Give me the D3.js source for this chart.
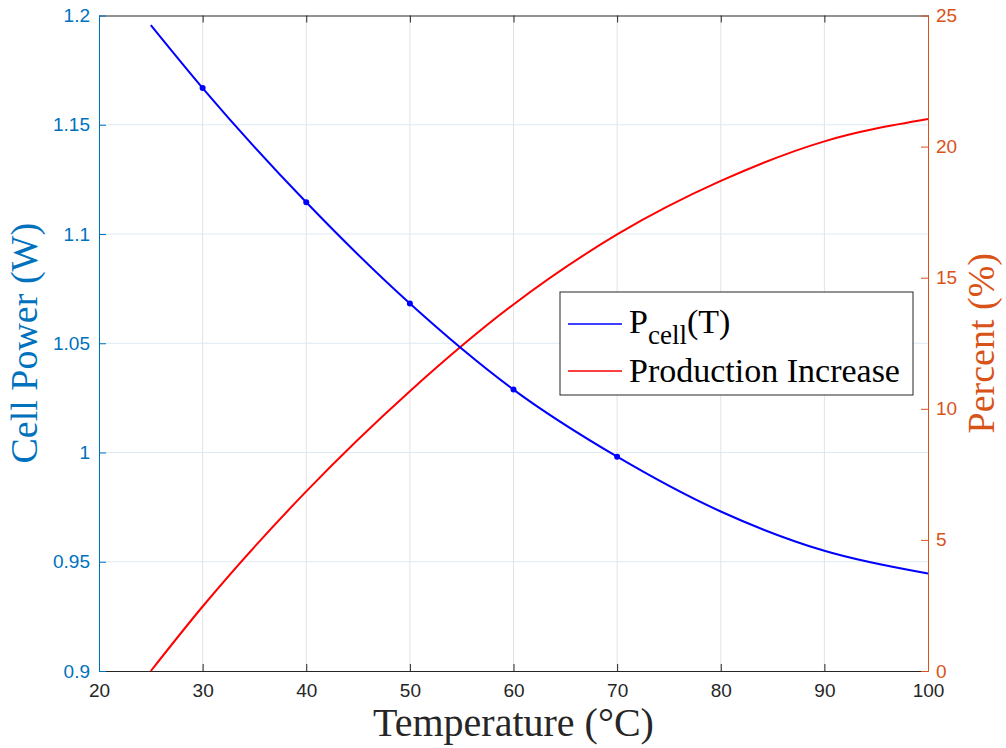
<!DOCTYPE html>
<html>
<head>
<meta charset="utf-8">
<script src="https://cdn.jsdelivr.net/npm/d3@7"></script>
<style>
  body { margin: 0; background: #fff; }
  svg { display: block; }
</style>
</head>
<body>
<div id="chart"></div>
<script>
// Data
const temps = [25, 30, 40, 50, 60, 70, 80, 90, 100]
const cellPower = [1.1956, 1.1668, 1.1145, 1.0682, 1.0288, 0.9981, 0.9730, 0.9550, 0.9446]
const increase = [0, 2.46, 6.85, 10.67, 13.98, 16.65, 18.69, 20.2, 21.05]
const markerTemps = [30, 40, 50, 60, 70]

const xTicks = [20, 30, 40, 50, 60, 70, 80, 90, 100]
const leftTicks = [0.9, 0.95, 1, 1.05, 1.1, 1.15, 1.2]
const rightTicks = [0, 5, 10, 15, 20, 25]

const W = 1006, H = 748
const margin = { top: 15.5, right: 78, bottom: 77, left: 99 }
const blueAxis = "rgb(0,114,189)"
const orangeAxis = "rgb(217,83,25)"

const svg = d3.select("#chart").append("svg")
    .attr("width", W)
    .attr("height", H)

const x = d3.scaleLinear().domain([20, 100]).range([margin.left, W - margin.right])
const yL = d3.scaleLinear().domain([0.9, 1.2]).range([H - margin.bottom, margin.top])
const yR = d3.scaleLinear().domain([0, 25]).range([H - margin.bottom, margin.top])

const x0 = x.range()[0], x1 = x.range()[1]
const yb = yL.range()[0], yt = yL.range()[1]

// Grid
svg.append("g")
    .selectAll("line")
    .data(xTicks.slice(1, -1))
    .join("line")
    .attr("x1", d => x(d)).attr("x2", d => x(d))
    .attr("y1", yt).attr("y2", yb)
    .attr("stroke", "#e3e3e6")
    .attr("stroke-width", 1)

svg.append("g")
    .selectAll("line")
    .data(leftTicks.slice(1, -1))
    .join("line")
    .attr("x1", x0).attr("x2", x1)
    .attr("y1", d => yL(d)).attr("y2", d => yL(d))
    .attr("stroke", "#dcebf2")
    .attr("stroke-width", 1)

// Axes
const fontTick = "'Liberation Sans', Arial, Helvetica, sans-serif"

const bottomAxis = svg.append("g")
    .attr("transform", `translate(0,${yb})`)
    .call(d3.axisBottom(x).tickValues(xTicks).tickFormat(d3.format("d")).tickSizeInner(-7).tickSizeOuter(0))
bottomAxis.select(".domain").attr("stroke", "#262626")
bottomAxis.selectAll(".tick line").attr("stroke", "#262626")
bottomAxis.selectAll("text")
    .attr("fill", "#262626")
    .attr("font-family", fontTick)
    .attr("font-size", 19)
    .attr("dy", "1.2em")

// top box line with ticks
const topAxis = svg.append("g")
    .attr("transform", `translate(0,${yt})`)
    .call(d3.axisTop(x).tickValues(xTicks).tickFormat("").tickSizeInner(-7).tickSizeOuter(0))
topAxis.select(".domain").attr("stroke", "#262626")
topAxis.selectAll(".tick line").attr("stroke", "#262626")

const leftAxis = svg.append("g")
    .attr("transform", `translate(${x0},0)`)
    .call(d3.axisLeft(yL).tickValues(leftTicks).tickFormat(d => d3.format("")(+d.toFixed(2))).tickSizeInner(-7).tickSizeOuter(0))
leftAxis.select(".domain").attr("stroke", blueAxis)
leftAxis.selectAll(".tick line").attr("stroke", blueAxis)
leftAxis.selectAll("text")
    .attr("fill", blueAxis)
    .attr("font-family", fontTick)
    .attr("font-size", 19)
    .attr("x", -9)

const rightAxis = svg.append("g")
    .attr("transform", `translate(${x1},0)`)
    .call(d3.axisRight(yR).tickValues(rightTicks).tickSizeInner(-7).tickSizeOuter(0))
rightAxis.select(".domain").attr("stroke", orangeAxis)
rightAxis.selectAll(".tick line").attr("stroke", orangeAxis)
rightAxis.selectAll("text")
    .attr("fill", orangeAxis)
    .attr("font-family", fontTick)
    .attr("font-size", 19)
    .attr("x", 8)

// Lines
const blueLine = d3.line()
    .x((d, i) => x(temps[i]))
    .y(d => yL(d))
    .curve(d3.curveMonotoneX)

const redLine = d3.line()
    .x((d, i) => x(temps[i]))
    .y(d => yR(d))
    .curve(d3.curveMonotoneX)

svg.append("path")
    .datum(increase)
    .attr("d", redLine)
    .attr("fill", "none")
    .attr("stroke", "#ff0000")
    .attr("stroke-width", 2)

svg.append("path")
    .datum(cellPower)
    .attr("d", blueLine)
    .attr("fill", "none")
    .attr("stroke", "#0000ff")
    .attr("stroke-width", 2)

svg.append("g")
    .selectAll("circle")
    .data(markerTemps)
    .join("circle")
    .attr("cx", d => x(d))
    .attr("cy", d => yL(cellPower[temps.indexOf(d)]))
    .attr("r", 3)
    .attr("fill", "#0000ff")

// Axis labels
const fontLabel = "'Liberation Serif', 'Times New Roman', Times, serif"

svg.append("text")
    .attr("x", (x0 + x1) / 2)
    .attr("y", 736)
    .attr("text-anchor", "middle")
    .attr("font-family", fontLabel)
    .attr("font-size", 40)
    .attr("fill", "#262626")
    .text("Temperature (°C)")

svg.append("text")
    .attr("transform", `translate(37,${(yt + yb) / 2}) rotate(-90)`)
    .attr("text-anchor", "middle")
    .attr("font-family", fontLabel)
    .attr("font-size", 38)
    .attr("fill", blueAxis)
    .text("Cell Power (W)")

svg.append("text")
    .attr("transform", `translate(994,${(yt + yb) / 2}) rotate(-90)`)
    .attr("text-anchor", "middle")
    .attr("font-family", fontLabel)
    .attr("font-size", 38)
    .attr("fill", orangeAxis)
    .text("Percent (%)")

// Legend
const legend = svg.append("g").attr("transform", "translate(560,292)")
legend.append("rect")
    .attr("width", 353)
    .attr("height", 103)
    .attr("fill", "#fff")
    .attr("stroke", "#262626")
    .attr("stroke-width", 1)

const legendItems = [
    { color: "#0000ff", y: 32 },
    { color: "#ff0000", y: 79 }
]
legend.selectAll("line")
    .data(legendItems)
    .join("line")
    .attr("x1", 8).attr("x2", 62)
    .attr("y1", d => d.y).attr("y2", d => d.y)
    .attr("stroke", d => d.color)
    .attr("stroke-width", 1.5)

const t1 = legend.append("text")
    .attr("x", 69)
    .attr("y", 41)
    .attr("font-family", fontLabel)
    .attr("font-size", 34)
    .attr("fill", "#000")
t1.append("tspan").text("P")
t1.append("tspan").attr("dy", 11).attr("font-size", 27).text("cell")
t1.append("tspan").attr("dy", -11).text("(T)")

legend.append("text")
    .attr("x", 69)
    .attr("y", 90)
    .attr("font-family", fontLabel)
    .attr("font-size", 34)
    .attr("fill", "#000")
    .text("Production Increase")
</script>
</body>
</html>
